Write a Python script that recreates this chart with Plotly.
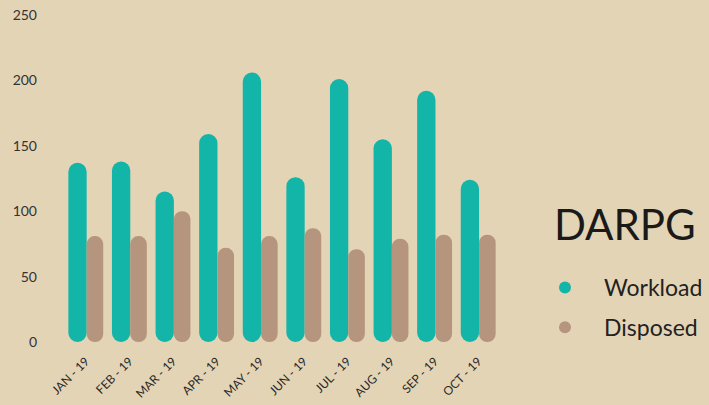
import plotly.graph_objects as go

months = ["JAN - 19", "FEB - 19", "MAR - 19", "APR - 19", "MAY - 19",
          "JUN - 19", "JUL - 19", "AUG - 19", "SEP - 19", "OCT - 19"]
workload = [137, 138, 115, 159, 206, 126, 201, 155, 192, 124]
disposed = [81, 81, 100, 72, 81, 87, 71, 79, 82, 82]
y_ticks = [0, 50, 100, 150, 200, 250]

TEAL = "#12B5A8"
TAN = "#B6957E"
BG = "#E4D4B6"
FONT = "Lato"

# layout geometry (pixels)
W, H = 709, 405
M_L, M_R, M_T, M_B = 64, 209, 15, 63
plot_w = W - M_L - M_R
plot_h = H - M_T - M_B
Y_MAX = 250

idx = list(range(len(months)))

fig = go.Figure()


def rounded_bar(values, color, offset, width, name):
    # an explicit base makes plotly round both ends of each bar
    fig.add_trace(go.Bar(
        x=idx, y=values, base=[0] * len(values),
        offset=offset, width=width,
        marker=dict(color=color, cornerradius="50%", line_width=0),
        showlegend=False, hoverinfo="skip"))
    fig.add_trace(go.Scatter(
        x=[None], y=[None], mode="markers", name=name, legendgroup=name,
        marker=dict(color=color, size=20, symbol="circle")))


rounded_bar(workload, TEAL, -0.40, 0.42, "Workload")
rounded_bar(disposed, TAN, 0.02, 0.38, "Disposed")

fig.add_annotation(
    text="DARPG", xref="paper", yref="paper",
    x=(552 - M_L) / plot_w, y=(H - M_B - 224) / plot_h,
    xanchor="left", yanchor="middle", showarrow=False,
    font=dict(size=42, color="#1a1a1a", family=FONT))

fig.update_layout(
    width=W, height=H,
    paper_bgcolor=BG, plot_bgcolor=BG,
    barmode="overlay",
    margin=dict(l=M_L, r=M_R, t=M_T, b=M_B, autoexpand=False),
    font=dict(family=FONT, color="#333333"),
    showlegend=True,
    legend=dict(
        font=dict(size=23, color="#222222", family=FONT),
        x=(526 - M_L) / plot_w, y=(H - M_B - 266) / plot_h,
        xanchor="left", yanchor="top",
        bgcolor="rgba(0,0,0,0)", itemsizing="constant", itemwidth=68,
        tracegroupgap=7,
    ),
    xaxis=dict(
        range=[-0.5, len(months) - 0.5], tickvals=idx, ticktext=months,
        showgrid=False, zeroline=False, showline=False, ticks="",
        tickangle=-45, ticklabelstandoff=9,
        tickfont=dict(size=12, color="#2a2a2a", family=FONT),
    ),
    yaxis=dict(
        range=[0, Y_MAX], tickvals=y_ticks, showgrid=False,
        zeroline=False, showline=False, ticks="",
        tickfont=dict(size=14, color="#333333", family=FONT),
        ticklabelstandoff=26,
    ),
)

fig.write_html(
    "out.html",
    config={"displayModeBar": False},
    post_script="document.body.style.margin='0';document.body.style.overflow='hidden';",
)
